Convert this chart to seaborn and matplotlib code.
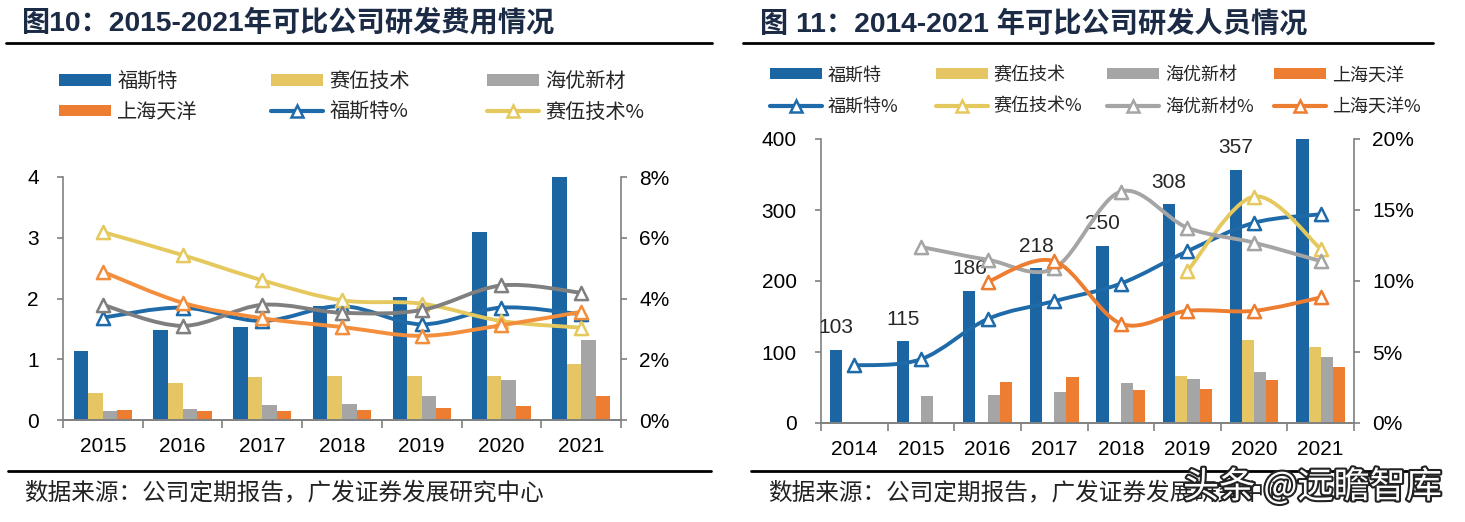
import numpy as np
import pandas as pd
import matplotlib
matplotlib.use('Agg')
import matplotlib.pyplot as plt
import seaborn as sns
from matplotlib.path import Path
from matplotlib.patches import PathPatch, Patch
from matplotlib.lines import Line2D
import matplotlib.patheffects as pe

sns.set_theme(style='white')
NUM_FONT = ['Liberation Sans', 'Noto Sans CJK SC', 'DejaVu Sans']
CJK_FONT = ['Noto Sans CJK SC', 'DejaVu Sans']
plt.rcParams['font.family'] = NUM_FONT
plt.rcParams['axes.unicode_minus'] = False

nan = np.nan
companies = ['福斯特', '赛伍技术', '海优新材', '上海天洋']
bar_colors = ['#1b65a3', '#e5c663', '#a5a5a5', '#ed7d31']

# 图10 研发费用（亿元）及费用率（%）
years_l = ['2015', '2016', '2017', '2018', '2019', '2020', '2021']
fst_cost = [1.13, 1.48, 1.53, 1.87, 2.03, 3.09, 4.05]
sw_cost = [0.45, 0.61, 0.71, 0.72, 0.73, 0.72, 0.92]
hy_cost = [0.14, 0.18, 0.25, 0.26, 0.39, 0.66, 1.32]
ty_cost = [0.17, 0.15, 0.15, 0.17, 0.19, 0.23, 0.39]
fst_cost_pct = [3.37, 3.70, 3.26, 3.75, 3.15, 3.70, 3.48]
sw_cost_pct = [6.19, 5.43, 4.60, 3.94, 3.83, 3.26, 3.04]
hy_cost_pct = [3.79, 3.10, 3.79, 3.53, 3.62, 4.43, 4.19]
ty_cost_pct = [4.88, 3.86, 3.35, 3.06, 2.77, 3.12, 3.56]

# 图11 研发人员（人）及占比（%）
years_r = ['2014', '2015', '2016', '2017', '2018', '2019', '2020', '2021']
fst_staff = [103, 115, 186, 218, 250, 308, 357, 430]
sw_staff = [nan, nan, nan, nan, nan, 66, 117, 107]
hy_staff = [nan, 38, 40, 44, 56, 62, 72, 93]
ty_staff = [nan, nan, 58, 65, 46, 48, 60, 79]
fst_staff_pct = [4.05, 4.49, 7.32, 8.58, 9.82, 12.1, 14.1, 14.7]
sw_staff_pct = [nan, nan, nan, nan, nan, 10.7, 15.95, 12.26]
hy_staff_pct = [nan, 12.4, 11.5, 10.9, 16.3, 13.75, 12.7, 11.4]
ty_staff_pct = [nan, nan, 9.94, 11.4, 7.0, 7.9, 7.9, 8.84]

GRAY = '#808080'
W, H = 1465, 522
FS = 15


def bar_df(years, series):
    rows = []
    for name, vals in zip(companies, series):
        for y, v in zip(years, vals):
            rows.append({'year': y, 'company': name, 'value': v})
    return pd.DataFrame(rows)


def smooth_line(ax, vals, color, lw=2.8, z=3):
    # 平滑曲线（贝塞尔），只连接有值的点
    pts = [(float(i), v) for i, v in enumerate(vals) if not np.isnan(v)]
    n = len(pts)
    verts = [pts[0]]
    codes = [Path.MOVETO]
    for i in range(n - 1):
        p0 = pts[max(i - 1, 0)]
        p1 = pts[i]
        p2 = pts[i + 1]
        p3 = pts[min(i + 2, n - 1)]
        c1 = (p1[0] + (p2[0] - p0[0]) / 6, p1[1] + (p2[1] - p0[1]) / 6)
        c2 = (p2[0] - (p3[0] - p1[0]) / 6, p2[1] - (p3[1] - p1[1]) / 6)
        verts += [c1, c2, p2]
        codes += [Path.CURVE4] * 3
    ax.add_patch(PathPatch(Path(verts, codes), fill=False, edgecolor=color,
                           lw=lw, capstyle='round', joinstyle='round', zorder=z))
    sns.scatterplot(x=np.arange(len(vals)), y=vals, ax=ax, marker='^', s=90,
                    color='white', edgecolor=color, linewidth=1.8, zorder=z + 0.5)


def style_axes(ax, ax2, n, ylim, yticks, ylim2, yticks2):
    ax.set_xlim(-0.5, n - 0.5)
    ax.set_ylim(*ylim)
    ax.set_yticks(yticks)
    ax2.set_ylim(*ylim2)
    ax2.set_yticks(yticks2)
    ax2.set_yticklabels([f'{int(t)}%' for t in yticks2])
    ax.set_xlabel('')
    ax.set_ylabel('')
    ax2.set_ylabel('')
    for a in (ax, ax2):
        a.spines['top'].set_visible(False)
        for s in ('left', 'right', 'bottom'):
            a.spines[s].set_color(GRAY)
            a.spines[s].set_linewidth(1.2)
        a.grid(False)
    ax2.spines['left'].set_visible(False)
    ax.spines['right'].set_visible(False)
    ax.set_xticks(np.arange(-0.5, n), minor=True)
    ax.tick_params(axis='x', which='minor', length=6, color=GRAY, width=1.2, direction='out', bottom=True)
    ax.tick_params(axis='x', which='major', length=0, pad=12, labelsize=FS, colors='black')
    ax.tick_params(axis='y', length=4.5, color=GRAY, width=1.2, direction='out', left=True,
                   pad=13, labelsize=FS, colors='black')
    ax2.tick_params(axis='y', length=4.5, color=GRAY, width=1.2, direction='out', right=True,
                    pad=8.5, labelsize=FS, colors='black')


fig = plt.figure(figsize=(W / 100, H / 100), dpi=100)

# ---------------- 图10 ----------------
axL = fig.add_axes([63 / W, 1 - 420 / H, (621 - 63) / W, (420 - 177) / H])
dfL = bar_df(years_l, [fst_cost, sw_cost, hy_cost, ty_cost])
sns.barplot(data=dfL, x='year', y='value', hue='company', hue_order=companies,
            palette=bar_colors, width=0.73, gap=0, errorbar=None, saturation=1,
            linewidth=0, legend=False, ax=axL)
axL2 = axL.twinx()
smooth_line(axL2, fst_cost_pct, '#1f6aa8', z=3)
smooth_line(axL2, sw_cost_pct, '#e6c95e', z=4)
smooth_line(axL2, hy_cost_pct, '#7f7f7f', z=5)
smooth_line(axL2, ty_cost_pct, '#f28e3c', z=6)
style_axes(axL, axL2, len(years_l), (0, 4), [0, 1, 2, 3, 4], (0, 8), [0, 2, 4, 6, 8])

# ---------------- 图11 ----------------
axR = fig.add_axes([821 / W, 1 - 423 / H, (1354 - 821) / W, (423 - 139) / H])
dfR = bar_df(years_r, [fst_staff, sw_staff, hy_staff, ty_staff])
sns.barplot(data=dfR, x='year', y='value', hue='company', hue_order=companies,
            palette=bar_colors, width=0.73, gap=0, errorbar=None, saturation=1,
            linewidth=0, legend=False, ax=axR)
for bar, v in zip(axR.containers[0], fst_staff):
    if v < 400:
        axR.annotate(f'{v}', (bar.get_x() + bar.get_width() / 2, v), xytext=(0, 9),
                     textcoords='offset points', ha='center', va='bottom', fontsize=FS)
axR2 = axR.twinx()
smooth_line(axR2, fst_staff_pct, '#1f6aa8', z=3)
smooth_line(axR2, sw_staff_pct, '#e6c95e', z=4)
smooth_line(axR2, hy_staff_pct, '#a5a5a5', z=5)
smooth_line(axR2, ty_staff_pct, '#ed7d31', z=6)
style_axes(axR, axR2, len(years_r), (0, 400), [0, 100, 200, 300, 400], (0, 20), [0, 5, 10, 15, 20])


# ---------------- 图例（逐列放置） ----------------
def patch(c):
    return Patch(facecolor=c, edgecolor='none')


def mline(c):
    return Line2D([], [], color=c, lw=3, marker='^', markersize=8,
                  markerfacecolor='white', markeredgecolor=c, markeredgewidth=1.8)


def legend_col(handles, labels, x, yc, size, hl, hh, ls):
    fig.legend(handles, labels, loc='center left', bbox_to_anchor=(x / W, 1 - yc / H),
               ncol=1, frameon=False, prop={'family': CJK_FONT, 'size': size},
               handlelength=hl, handleheight=hh, handletextpad=0.3, labelspacing=ls,
               borderpad=0, borderaxespad=0)


colsL = [([patch(bar_colors[0]), patch(bar_colors[3])], ['福斯特', '上海天洋'], 59),
         ([patch(bar_colors[1]), mline('#1f6aa8')], ['赛伍技术', '福斯特%'], 271),
         ([patch(bar_colors[2]), mline('#e6c95e')], ['海优新材', '赛伍技术%'], 487)]
for h, l, x in colsL:
    legend_col(h, l, x, 97, 14.5, 2.6, 0.5, 0.46)

colsR = [([patch(bar_colors[0]), mline('#1f6aa8')], ['福斯特', '福斯特%'], 770),
         ([patch(bar_colors[1]), mline('#e6c95e')], ['赛伍技术', '赛伍技术%'], 936),
         ([patch(bar_colors[2]), mline('#a5a5a5')], ['海优新材', '海优新材%'], 1107),
         ([patch(bar_colors[3]), mline('#ed7d31')], ['上海天洋', '上海天洋%'], 1274)]
for h, l, x in colsR:
    legend_col(h, l, x, 91, 13, 2.9, 0.55, 0.74)

# ---------------- 标题 / 线 / 来源 ----------------
fig.text(22 / W, 1 - 23 / H, '图10：2015-2021年可比公司研发费用情况', fontsize=20.3,
         fontweight='bold', color='#1c2b45', va='center', family=NUM_FONT)
fig.text(760 / W, 1 - 24 / H, '图 11：2014-2021 年可比公司研发人员情况', fontsize=20.3,
         fontweight='bold', color='#1c2b45', va='center', family=NUM_FONT)
for x0, x1 in ((6, 712), (743, 1433)):
    fig.add_artist(Line2D([x0 / W, x1 / W], [1 - 43 / H] * 2, color='black', lw=2))
for x0, x1 in ((8, 711), (751, 1425)):
    fig.add_artist(Line2D([x0 / W, x1 / W], [1 - 471 / H] * 2, color='black', lw=2))
src = '数据来源：公司定期报告，广发证券发展研究中心'
fig.text(24 / W, 1 - 494 / H, src, fontsize=17, va='center', family=CJK_FONT, color='#222222')
fig.text(768 / W, 1 - 494 / H, src, fontsize=17, va='center', family=CJK_FONT, color='#222222')
# 水印，与参考图一样压在来源文字上
fig.text(1183 / W, 1 - 487 / H, '头条 @远瞻智库', fontsize=26, va='center', color='white',
         family=CJK_FONT, path_effects=[pe.withStroke(linewidth=3, foreground='#222222')])

fig.savefig('out.png', dpi=100)
